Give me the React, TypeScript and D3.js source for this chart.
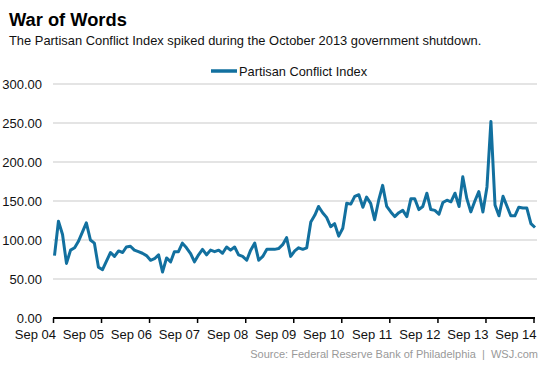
import React, { useEffect, useRef } from 'react';
import * as d3 from 'd3';

// Partisan Conflict Index, monthly, Sep 2004 - Sep 2014
const startYear = 2004;
const startMonth = 8; // September (0-based)
const indexValues: number[] = [
  80, 124, 107, 70, 87, 90, 98, 110, 122, 100, 96, 65,
  62, 73, 84, 79, 86, 84, 91, 92, 87, 85, 83, 80,
  74, 76, 81, 59, 77, 72, 85, 85, 96, 90, 83, 72,
  81, 88, 81, 87, 85, 87, 83, 91, 87, 91, 81, 79,
  74, 87, 96, 74, 79, 88, 88, 88, 89, 94, 103, 79,
  86, 90, 88, 90, 123, 132, 143, 135, 129, 117, 121, 105,
  115, 147, 146, 156, 158, 142, 155, 147, 126, 151, 170, 143,
  136, 130, 135, 138, 130, 153, 153, 139, 143, 160, 139, 138,
  133, 148, 151, 149, 160, 143, 181, 153, 136, 150, 162, 136,
  168, 252, 145, 131, 156, 143, 131, 131, 142, 141, 141, 121,
  116,
];
const yTicks = [0, 50, 100, 150, 200, 250, 300];
const xTickLabels = ['Sep 04', 'Sep 05', 'Sep 06', 'Sep 07', 'Sep 08', 'Sep 09', 'Sep 10', 'Sep 11', 'Sep 12', 'Sep 13', 'Sep 14'];

const title = 'War of Words';
const subtitle = 'The Partisan Conflict Index spiked during the October 2013 government shutdown.';
const seriesName = 'Partisan Conflict Index';
const source = 'Source: Federal Reserve Bank of Philadelphia  |  WSJ.com';

const W = 553;
const H = 369;
const lineColor = '#12709f';
const font = "Arial, 'Liberation Sans', Helvetica, sans-serif";

const App: React.FC = () => {
  const svgRef = useRef<SVGSVGElement>(null);

  useEffect(() => {
    if (!svgRef.current) return;
    const svg = d3.select(svgRef.current);
    svg.selectAll('*').remove();

    const data = indexValues.map((v, i) => ({ date: new Date(startYear, startMonth + i, 1), value: v }));

    const x = d3.scaleTime()
      .domain([new Date(startYear, startMonth, 1), new Date(startYear + 10, startMonth, 1)])
      .range([53.5, 534]);
    const y = d3.scaleLinear().domain([0, 300]).range([318, 84]);

    svg.append('rect').attr('width', W).attr('height', H).attr('fill', '#fff');

    // titles
    svg.append('text')
      .attr('x', 9).attr('y', 26)
      .attr('font-family', font).attr('font-size', 18.3).attr('font-weight', 'bold')
      .attr('fill', '#000')
      .text(title);
    svg.append('text')
      .attr('x', 9).attr('y', 44.5)
      .attr('font-family', font).attr('font-size', 12.9)
      .attr('fill', '#111')
      .text(subtitle);

    // legend
    svg.append('line')
      .attr('x1', 211).attr('x2', 237).attr('y1', 71).attr('y2', 71)
      .attr('stroke', lineColor).attr('stroke-width', 3.5);
    svg.append('text')
      .attr('x', 239).attr('y', 75.5)
      .attr('font-family', font).attr('font-size', 12.8)
      .attr('fill', '#111')
      .text(seriesName);

    // gridlines + y labels
    svg.append('g').selectAll('line')
      .data(yTicks.filter(d => d > 0))
      .enter().append('line')
      .attr('x1', 53).attr('x2', 537)
      .attr('y1', d => y(d)).attr('y2', d => y(d))
      .attr('stroke', '#c9c9c9').attr('stroke-width', 1.2);

    svg.append('g').selectAll('text')
      .data(yTicks)
      .enter().append('text')
      .attr('x', 42).attr('y', d => y(d) + 4.5)
      .attr('text-anchor', 'end')
      .attr('font-family', font).attr('font-size', 13)
      .attr('fill', '#111')
      .text(d => d.toFixed(2));

    // x axis
    const tickDates = xTickLabels.map((_, i) => new Date(startYear + i, startMonth, 1));
    svg.append('line')
      .attr('x1', 53).attr('x2', 535)
      .attr('y1', 318).attr('y2', 318)
      .attr('stroke', '#000').attr('stroke-width', 2.2);
    svg.append('g').selectAll('line')
      .data(tickDates)
      .enter().append('line')
      .attr('x1', d => x(d)).attr('x2', d => x(d))
      .attr('y1', 318).attr('y2', 323)
      .attr('stroke', '#000').attr('stroke-width', 1.5);
    svg.append('g').selectAll('text')
      .data(tickDates)
      .enter().append('text')
      .attr('x', d => x(d) + 2.5).attr('y', 339)
      .attr('text-anchor', 'end')
      .attr('font-family', font).attr('font-size', 13)
      .attr('fill', '#111')
      .text((_, i) => xTickLabels[i]);

    // series
    const line = d3.line<{ date: Date; value: number }>()
      .x(d => x(d.date) + 1)
      .y(d => y(d.value));
    svg.append('path')
      .datum(data)
      .attr('fill', 'none')
      .attr('stroke', lineColor)
      .attr('stroke-width', 3)
      .attr('stroke-linejoin', 'round')
      .attr('d', line);

    // source
    svg.append('text')
      .attr('x', 538).attr('y', 358)
      .attr('text-anchor', 'end')
      .attr('font-family', font).attr('font-size', 11)
      .attr('fill', '#999')
      .attr('xml:space', 'preserve')
      .style('white-space', 'pre')
      .text(source);
  }, []);

  return (
    <svg ref={svgRef} width={W} height={H} style={{ position: 'absolute', left: 0, top: 0 }} />
  );
};

export default App;
